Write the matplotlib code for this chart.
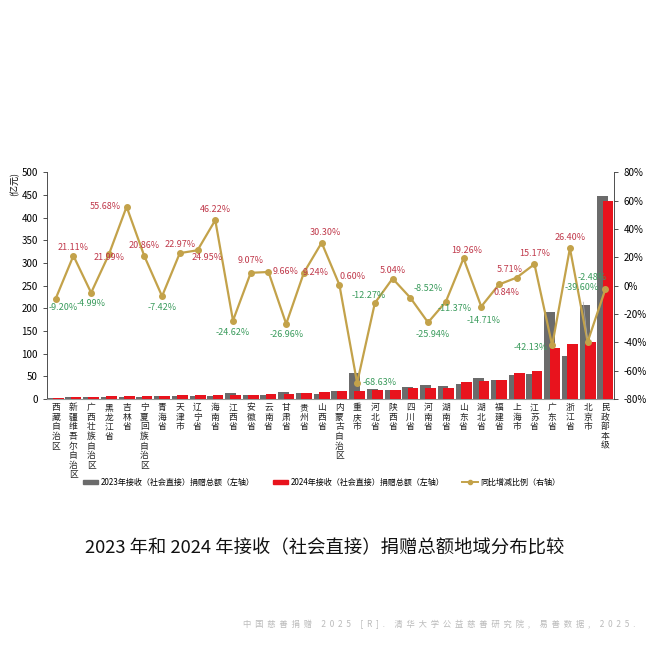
import numpy as np
import matplotlib.pyplot as plt
from matplotlib.patches import Patch
from matplotlib.lines import Line2D

plt.rcParams['font.family'] = ['Noto Sans CJK SC', 'DejaVu Sans']
plt.rcParams['axes.unicode_minus'] = False

#%% data
regions = ['西藏自治区', '新疆维吾尔自治区', '广西壮族自治区', '黑龙江省', '吉林省',
           '宁夏回族自治区', '青海省', '天津市', '辽宁省', '海南省', '江西省', '安徽省',
           '云南省', '甘肃省', '贵州省', '山西省', '内蒙古自治区', '重庆市', '河北省',
           '陕西省', '四川省', '河南省', '湖南省', '山东省', '湖北省', '福建省', '上海市',
           '江苏省', '广东省', '浙江省', '北京市', '民政部本级']
val_2023 = [1.65, 3.7, 4.8, 4.8, 3.85, 5.3, 7.9, 6.5, 6.6, 5.9, 12.6, 8.8,
            9.6, 15.4, 12.5, 12.2, 16.9, 57.4, 22.8, 19.8, 25.7, 31.9, 28.6,
            32.3, 46.3, 41.1, 53.6, 54.3, 192.9, 95.5, 208.0, 447.0]
val_2024 = [1.5, 4.5, 4.56, 5.9, 6.0, 6.4, 7.3, 8.0, 8.25, 8.6, 9.5, 9.6,
            10.5, 11.3, 13.6, 15.9, 17.0, 18.0, 20.0, 20.8, 23.5, 23.6, 25.3,
            38.5, 39.5, 41.4, 56.6, 62.5, 111.6, 120.7, 125.6, 436.0]
yoy = [-9.20, 21.11, -4.99, 21.99, 55.68, 20.86, -7.42, 22.97, 24.95, 46.22,
       -24.62, 9.07, 9.66, -26.96, 9.24, 30.30, 0.60, -68.63, -12.27, 5.04,
       -8.52, -25.94, -11.37, 19.26, -14.71, 0.84, 5.71, 15.17, -42.13, 26.40,
       -39.60, -2.48]
# label offsets in pixels (dx, dy)
lab_off = [(8, -9), (0, 8), (0, -11), (0, -3), (-21, 0), (0, 11), (0, -11), (0, 9),
           (10, -7), (0, 11), (0, -12), (0, 12), (17, 0), (0, -11), (12, 0), (4, 10),
           (13, 8), (23, 0), (-6, 8), (0, 8), (18, 9), (5, -12), (9, -7), (3, 8),
           (2, -14), (8, -8), (-7, 8), (0, 11), (-21, -2), (0, 11), (-6, 54), (-13, 12)]

c_2023 = '#6b6b6b'
c_2024 = '#e8131d'
c_line = '#c3a24a'
c_pos = '#c0394b'
c_neg = '#3a9b5c'

#%% plot
fig = plt.figure(figsize=(6.5, 6.5), dpi=100)
ax = fig.add_axes([0.072, 0.386, 0.873, 0.349])
x = np.arange(len(regions))
w = 0.6
ax.bar(x - 0.15, val_2023, w, color=c_2023, zorder=2)
ax.bar(x + 0.15, val_2024, w, color=c_2024, zorder=3)
ax.set_xlim(-0.5, len(regions) - 0.5)
ax.set_ylim(0, 500)
ax.set_yticks(np.arange(0, 501, 50))
ax.set_xticks(x)
ax.set_xticklabels(['\n'.join(r) for r in regions], fontsize=6.3, va='top',
                   linespacing=1.08, color='#222222')
ax.tick_params(axis='x', length=0, pad=3)
ax.tick_params(axis='y', labelsize=7, length=3, width=0.6, color='#333333')
for s in ['top', 'right']:
    ax.spines[s].set_visible(False)
ax.spines['left'].set_color('#333333')
ax.spines['left'].set_linewidth(0.6)
ax.spines['bottom'].set_color('#999999')
ax.spines['bottom'].set_linewidth(0.8)
fig.text(0.022, 0.717, '(亿元)', rotation=90, fontsize=6.5, ha='center', va='center')

ax2 = ax.twinx()
ax2.plot(x, yoy, color=c_line, lw=1.6, marker='o', ms=4, zorder=5)
ax2.set_ylim(-80, 80)
ax2.set_yticks(np.arange(-80, 81, 20))
ax2.set_yticklabels([f'{v}%' for v in range(-80, 81, 20)])
ax2.tick_params(axis='y', labelsize=7, length=3, width=0.6, color='#333333')
for s in ['top', 'left', 'bottom']:
    ax2.spines[s].set_visible(False)
ax2.spines['right'].set_color('#333333')
ax2.spines['right'].set_linewidth(0.6)

for i, v in enumerate(yoy):
    dx, dy = lab_off[i]
    arrow = None
    if i in (30, 31):
        arrow = dict(arrowstyle='-', color='#aaaaaa', lw=0.5, shrinkA=5, shrinkB=3)
    ax2.annotate(f'{v:.2f}%', (x[i], v), xytext=(dx, dy), textcoords='offset pixels',
                 ha='center', va='center', fontsize=6.5,
                 color=c_pos if v >= 0 else c_neg, arrowprops=arrow, zorder=6)

handles = [Patch(color=c_2023), Patch(color=c_2024),
           Line2D([0], [0], color=c_line, lw=1.4, marker='o', ms=3)]
labels = ['2023年接收（社会直接）捐赠总额（左轴）', '2024年接收（社会直接）捐赠总额（左轴）',
          '同比增减比例（右轴）']
fig.legend(handles, labels, loc='center', bbox_to_anchor=(0.495, 0.258), ncol=3,
           frameon=False, fontsize=5.8, handlelength=1.9, handleheight=0.5,
           columnspacing=2.2, handletextpad=0.35)

fig.text(0.5, 0.157, '2023 年和 2024 年接收（社会直接）捐赠总额地域分布比较',
         ha='center', va='center', fontsize=13.2, color='#111111')
foot = '中国慈善捐赠 2025 [R]. 清华大学公益慈善研究院, 易善数据, 2025.'
fig.text(0.978, 0.04, '  '.join(foot), ha='right', va='center', fontsize=6,
         color='#bbbbbb')

fig.savefig('out.png', dpi=100)
